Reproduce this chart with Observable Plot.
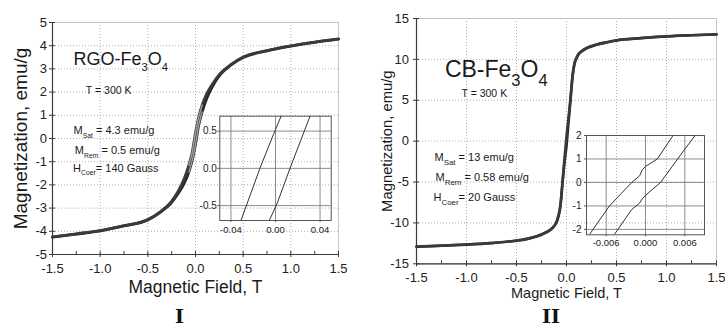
<!DOCTYPE html>
<html>
<head>
<meta charset="utf-8">
<script src="https://cdn.jsdelivr.net/npm/d3@7"></script>
<script src="https://cdn.jsdelivr.net/npm/@observablehq/plot@0.6"></script>
<style>
  html, body { margin: 0; padding: 0; background: #fff; }
  #wrap { position: relative; width: 725px; height: 327px; overflow: hidden; background: #fff; }
  #wrap svg { position: absolute; overflow: visible; }
</style>
</head>
<body>
<div id="wrap"></div>
<script>
// ---------- Data ----------
// Panel I : RGO-Fe3O4
const fieldI = [-1.5, -1.25, -1.0, -0.75, -0.5, -0.37, -0.26, -0.18, -0.12, -0.07, -0.035, 0, 0.035, 0.07, 0.12, 0.18, 0.26, 0.37, 0.5, 0.75, 1.0, 1.25, 1.5];
const magIAscending = [-4.25, -4.12, -3.98, -3.77, -3.51, -3.18, -2.8, -2.36, -1.95, -1.45, -0.95, -0.25, 0.6, 1.15, 1.75, 2.26, 2.75, 3.16, 3.49, 3.78, 3.98, 4.14, 4.28];
const magIDescending = [-4.24, -4.11, -3.97, -3.76, -3.49, -3.16, -2.75, -2.26, -1.75, -1.15, -0.6, 0.25, 0.95, 1.45, 1.95, 2.36, 2.8, 3.18, 3.51, 3.79, 3.99, 4.15, 4.29];

// Panel I inset (zoom near origin)
const insetIFieldLeft = [-0.031, -0.014, -0.002, 0.0, 0.005];
const insetIMagLeft = [-0.7, 0.0, 0.45, 0.52, 0.7];
const insetIFieldRight = [-0.0056, 0.0, 0.002, 0.013, 0.031];
const insetIMagRight = [-0.7, -0.52, -0.45, 0.0, 0.7];

// Panel II : CB-Fe3O4
const fieldII = [-1.5, -1.25, -1.0, -0.75, -0.5, -0.4, -0.3, -0.2, -0.15, -0.12, -0.1, -0.08, -0.06, -0.04, -0.02, 0, 0.02, 0.04, 0.06, 0.08, 0.1, 0.12, 0.15, 0.2, 0.3, 0.4, 0.5, 0.75, 1.0, 1.25, 1.5];
const magIIDescending = [-12.9, -12.78, -12.64, -12.45, -12.15, -11.95, -11.62, -11.1, -10.7, -10.3, -9.85, -9.05, -7.7, -4.9, -2.1, 0.6, 2.8, 5.3, 8.0, 9.55, 10.2, 10.65, 11.0, 11.4, 11.82, 12.1, 12.34, 12.62, 12.83, 12.96, 13.07];
const magIIAscending = [-12.92, -12.8, -12.66, -12.47, -12.18, -11.98, -11.66, -11.15, -10.75, -10.35, -9.95, -9.2, -7.9, -5.2, -2.6, -0.6, 2.3, 5.0, 7.8, 9.45, 10.15, 10.6, 10.95, 11.35, 11.78, 12.07, 12.32, 12.6, 12.81, 12.95, 13.05];

// Panel II inset
const insetIIFieldLeft = [-0.0085, -0.0055, -0.0021, -0.0009, -0.0005, 0.0, 0.0018, 0.0042];
const insetIIMagLeft = [-2.2, -1.0, 0.0, 0.28, 0.54, 0.68, 1.0, 2.0];
const insetIIFieldRight = [-0.0047, -0.0021, -0.0009, -0.0005, 0.0, 0.0023, 0.0049, 0.00755];
const insetIIMagRight = [-2.2, -1.15, -0.88, -0.7, -0.55, 0.0, 1.0, 2.0];

// Ticks
const xTicksMain = [-1.5, -1.0, -0.5, 0, 0.5, 1.0, 1.5];
const xMinorMain = [-1.25, -0.75, -0.25, 0.25, 0.75, 1.25];
const yTicksI = [-5, -4, -3, -2, -1, 0, 1, 2, 3, 4, 5];
const yTicksII = [-15, -10, -5, 0, 5, 10, 15];
const insetIXTicks = [-0.04, 0, 0.04];
const insetIYTicks = [-0.5, 0, 0.5];
const insetIIXTicks = [-0.006, 0, 0.006];
const insetIIYTicks = [-2, -1, 0, 1, 2];

// Texts
const xTitle = "Magnetic Field, T";
const yTitle = "Magnetization, emu/g";
const panelLabels = ["I", "II"];
const annotI = [
  {h: -1.28, m: 3.42, label: "RGO-Fe_{3}O_{4}", size: 18},
  {h: -1.15, m: 2.06, label: "T = 300 K", size: 10.5},
  {h: -1.28, m: 0.34, label: "M_{Sat} = 4.3 emu/g", size: 11},
  {h: -1.266, m: -0.53, label: "M_{Rem} = 0.5 emu/g", size: 11},
  {h: -1.284, m: -1.28, label: "H_{Coer}= 140 Gauss", size: 11}
];
const annotII = [
  {h: -1.216, m: 8.73, label: "CB-Fe_{3}O_{4}", size: 23},
  {h: -1.05, m: 5.85, label: "T = 300 K", size: 10.5},
  {h: -1.32, m: -1.95, label: "M_{Sat} = 13 emu/g", size: 11},
  {h: -1.31, m: -4.4, label: "M_{Rem} = 0.58 emu/g", size: 11},
  {h: -1.33, m: -6.84, label: "H_{Coer}= 20 Gauss", size: 11}
];

// ---------- helpers ----------
const FONT = "'Liberation Sans', Arial, Helvetica, sans-serif";
const zip = (xs, ys) => xs.map((h, i) => ({h, m: ys[i]}));
const wrap = document.getElementById("wrap");
function place(svg, left, top) {
  svg.style.left = left + "px";
  svg.style.top = top + "px";
  wrap.appendChild(svg);
}
function subscriptify(svg, ratio, shift) {
  const ns = "http://www.w3.org/2000/svg";
  svg.querySelectorAll("text").forEach(t => {
    const s = t.textContent;
    if (!s.includes("_{")) return;
    const fs = parseFloat(t.getAttribute("font-size") || t.parentNode.getAttribute("font-size") || 11);
    const sh = shift * fs;
    while (t.firstChild) t.removeChild(t.firstChild);
    const parts = s.split(/(_\{[^}]*\})/).filter(p => p);
    let down = false;
    for (const p of parts) {
      const ts = document.createElementNS(ns, "tspan");
      if (p.startsWith("_{")) {
        ts.textContent = p.slice(2, -1);
        ts.setAttribute("font-size", (fs * ratio) + "px");
        if (!down) ts.setAttribute("dy", sh);
        down = true;
      } else {
        ts.textContent = p;
        if (down) ts.setAttribute("dy", -sh);
        down = false;
      }
      t.appendChild(ts);
    }
  });
}

function mainPanel(cfg) {
  const fw = cfg.width - cfg.ml - cfg.mr;
  const fh = cfg.height - cfg.mt - cfg.mb;
  const core = cfg.coreWidth;
  return Plot.plot({
    width: cfg.width, height: cfg.height,
    marginLeft: cfg.ml, marginRight: cfg.mr, marginTop: cfg.mt, marginBottom: cfg.mb,
    x: {domain: [xTicksMain[0], xTicksMain[xTicksMain.length - 1]]},
    y: {domain: [cfg.yTicks[0], cfg.yTicks[cfg.yTicks.length - 1]]},
    style: {fontFamily: FONT, color: "#222", background: "transparent", overflow: "visible"},
    marks: [
      Plot.gridX(xTicksMain, {stroke: "#9a9a9a", strokeDasharray: "1,2", strokeOpacity: 1, strokeWidth: 0.8}),
      Plot.gridY(cfg.yTicks, {stroke: "#9a9a9a", strokeDasharray: "1,2", strokeOpacity: 1, strokeWidth: 0.8}),
      Plot.frame({stroke: "#c4c4c4"}),
      Plot.ruleX([xTicksMain[0]], {stroke: "#3a3a3a", strokeWidth: 1.2}),
      Plot.ruleY([cfg.yTicks[0]], {stroke: "#3a3a3a", strokeWidth: 1.2}),
      Plot.axisX({ticks: xTicksMain, tickFormat: d => d.toFixed(1), tickSize: 3, tickPadding: cfg.xPad, fontSize: cfg.tickFont, label: null, stroke: "#3a3a3a"}),
      Plot.axisY({ticks: cfg.yTicks, tickFormat: d => String(d), tickSize: 3, tickPadding: cfg.yPad, fontSize: cfg.tickFont, label: null, stroke: "#3a3a3a"}),
      Plot.tickX(xTicksMain.concat(xMinorMain), {x: d => d, insetTop: fh - 3, stroke: "#3a3a3a"}),
      Plot.tickY(cfg.yTicks, {y: d => d, insetRight: fw - 3, stroke: "#3a3a3a"}),
      Plot.line(cfg.asc, {x: "h", y: "m", curve: "monotone-x", stroke: "#262626", strokeWidth: cfg.lineW}),
      Plot.line(cfg.desc, {x: "h", y: "m", curve: "monotone-x", stroke: "#3a3a3a", strokeWidth: cfg.lineW}),
      // lighter core of the steep central part (open markers in the original)
      core ? Plot.line(cfg.asc.filter(d => Math.abs(d.h) <= core), {x: "h", y: "m", curve: "monotone-x", stroke: "#a0a0a0", strokeWidth: 1.4}) : null,
      core ? Plot.line(cfg.desc.filter(d => Math.abs(d.h) <= core), {x: "h", y: "m", curve: "monotone-x", stroke: "#a0a0a0", strokeWidth: 1.4}) : null,
      Plot.text(cfg.annot, {x: "h", y: "m", text: "label", fontSize: "size", textAnchor: "start", lineAnchor: "middle", fill: "#1a1a1a"}),
      Plot.text([xTitle], {text: d => d, frameAnchor: "bottom", dy: cfg.xTitleDy, fontSize: cfg.xTitleFont, textAnchor: "middle", lineAnchor: "middle", fill: "#1a1a1a"}),
      Plot.text([yTitle], {text: d => d, frameAnchor: "left", rotate: -90, dx: cfg.yTitleDx, fontSize: cfg.yTitleFont, textAnchor: "middle", lineAnchor: "middle", fill: "#1a1a1a"}),
      Plot.text([cfg.panelLabel], {text: d => d, frameAnchor: "bottom", dx: cfg.labelDx, dy: cfg.labelDy, fontSize: 19, fontWeight: "bold", fontFamily: "'DejaVu Serif', serif", textAnchor: "middle", lineAnchor: "middle", fill: "#111"})
    ].filter(Boolean)
  });
}

function insetPanel(cfg) {
  return Plot.plot({
    width: cfg.width, height: cfg.height,
    marginLeft: cfg.ml, marginRight: cfg.mr, marginTop: cfg.mt, marginBottom: cfg.mb,
    x: {domain: cfg.xDomain},
    y: {domain: cfg.yDomain},
    style: {fontFamily: FONT, color: "#222", background: "transparent", overflow: "visible"},
    marks: [
      Plot.gridX(cfg.xTicks, {stroke: "#808080", strokeOpacity: 1, strokeWidth: 0.9}),
      Plot.gridY(cfg.yTicks, {stroke: "#808080", strokeOpacity: 1, strokeWidth: 0.9}),
      Plot.frame({stroke: "#555", strokeWidth: 1}),
      Plot.axisX({ticks: cfg.xTicks, tickFormat: cfg.xFmt, tickSize: 2, tickPadding: cfg.xPad, fontSize: 9.5, label: null, stroke: "#555"}),
      Plot.axisY({ticks: cfg.yTicks, tickFormat: cfg.yFmt, tickSize: 2, tickPadding: cfg.yPad, fontSize: 10, label: null, stroke: "#555"}),
      Plot.line(cfg.left, {x: "h", y: "m", stroke: "#333", strokeWidth: 1, clip: true}),
      Plot.line(cfg.right, {x: "h", y: "m", stroke: "#333", strokeWidth: 1, clip: true})
    ]
  });
}

// ---------- Panel I ----------
const p1 = mainPanel({
  width: 362, height: 327, ml: 52, mr: 24, mt: 22, mb: 73,
  yTicks: yTicksI, tickFont: 13, xPad: 6, yPad: 2.5,
  asc: zip(fieldI, magIAscending), desc: zip(fieldI, magIDescending), lineW: 2.8, coreWidth: 0.07,
  annot: annotI, xTitleDy: 33, xTitleFont: 17.5, yTitleDx: -32, yTitleFont: 19,
  panelLabel: panelLabels[0], labelDx: -16, labelDy: 62
});
subscriptify(p1, 0.62, 0.32);
place(p1, 0, 0);

const i1 = insetPanel({
  width: 150, height: 135, ml: 29.3, mr: 9.3, mt: 10.7, mb: 20,
  xDomain: [-0.05, 0.05], yDomain: [-0.7, 0.7],
  xTicks: insetIXTicks, yTicks: insetIYTicks,
  xFmt: d => d.toFixed(2), yFmt: d => d.toFixed(1), xPad: 4, yPad: 1,
  left: zip(insetIFieldLeft, insetIMagLeft), right: zip(insetIFieldRight, insetIMagRight)
});
place(i1, 190, 105);

// ---------- Panel II ----------
const p2 = mainPanel({
  width: 362, height: 327, ml: 53, mr: 9, mt: 18, mb: 63.7,
  yTicks: yTicksII, tickFont: 13, xPad: 6, yPad: 4.5,
  asc: zip(fieldII, magIIAscending), desc: zip(fieldII, magIIDescending), lineW: 2.6, coreWidth: 0,
  annot: annotII, xTitleDy: 30, xTitleFont: 14.5, yTitleDx: -29, yTitleFont: 14.8,
  panelLabel: panelLabels[1], labelDx: -15.5, labelDy: 53
});
subscriptify(p2, 0.72, 0.4);
place(p2, 363, 0);

const i2 = insetPanel({
  width: 160, height: 130, ml: 26, mr: 16, mt: 10, mb: 20.7,
  xDomain: [-0.009, 0.009], yDomain: [-2.23, 2.0],
  xTicks: insetIIXTicks, yTicks: insetIIYTicks,
  xFmt: d => d.toFixed(3), yFmt: d => String(d), xPad: 2, yPad: 3,
  left: zip(insetIIFieldLeft, insetIIMagLeft), right: zip(insetIIFieldRight, insetIIMagRight)
});
place(i2, 560, 125);
</script>
</body>
</html>
